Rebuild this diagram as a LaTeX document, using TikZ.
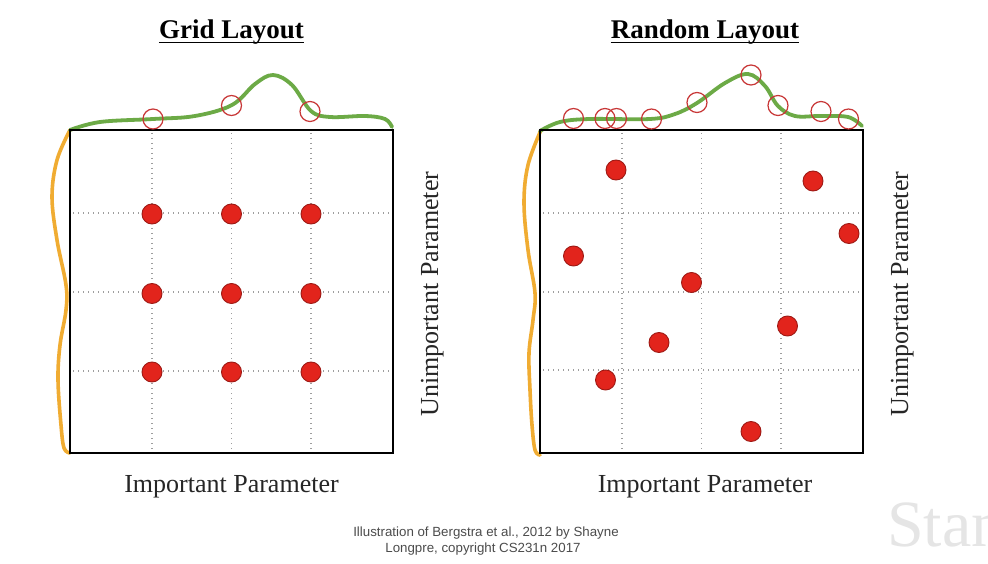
\documentclass[tikz,border=0pt]{standalone}
\usepackage{fontspec}
\setmainfont{Liberation Serif}
\newfontfamily\capfont{Liberation Sans}
\begin{document}
\begin{tikzpicture}[x=1pt,y=-1pt,
  box/.style={draw=black,line width=2.6pt},
  gridln/.style={draw=black!38,line width=1.4pt,dash pattern=on 1.4pt off 3.6pt},
  dot/.style={circle,fill=dotred,draw=dotred!70!black,line width=0.9pt,minimum size=20pt,inner sep=0pt},
  ring/.style={circle,draw=ringred,line width=1.2pt,minimum size=20pt,inner sep=0pt},
  gcurve/.style={draw=curvegreen,line width=3.8pt,line cap=round},
  ocurve/.style={draw=curveorange,line width=3.6pt,line cap=round},
  title/.style={font=\fontsize{27}{30}\selectfont\bfseries,inner sep=0pt,anchor=base},
  axlab/.style={font=\fontsize{26}{30}\selectfont,text=black!85,inner sep=0pt,anchor=base},
  caption/.style={font=\capfont\fontsize{13.3}{16}\selectfont,text=black!70,inner sep=0pt,anchor=base}
]
\definecolor{dotred}{RGB}{226,36,28}
\definecolor{ringred}{RGB}{200,55,55}
\definecolor{curvegreen}{RGB}{108,170,70}
\definecolor{curveorange}{RGB}{240,172,50}
\useasboundingbox (0,0) rectangle (988,564);
\fill[white] (0,0) rectangle (988,564);

% watermark (cut off at the right edge, as in the reference)
\begin{scope}
\clip (0,0) rectangle (988,564);
\node[font=\fontsize{66}{70}\selectfont,text=black!10,inner sep=0pt,anchor=base west] (wm) at (887,546) {Stan};
\end{scope}

% ---------- Left panel ----------
\foreach \x in {152,231.5,311} \draw[gridln] (\x,133) -- (\x,452);
\foreach \y in {213,292,371} \draw[gridln] (73,\y) -- (392,\y);
\draw[ocurve] plot[smooth,tension=0.6] coordinates {(70,130) (57,160) (52,197) (57,240) (66,285) (66,310) (60,345) (58,380) (61,425) (64,448) (70,453)};
\draw[gcurve] plot[smooth,tension=0.6] coordinates {(70,130) (100,122) (153,119) (195,116) (232,105) (255,84) (273,75) (292,85) (311,111) (330,117) (365,116) (385,119) (392,127)};
\draw[box] (70,130) rectangle (393,453);
\foreach \x/\n in {152/a,231.5/b,311/c}{
  \foreach \y/\m in {214/1,293.5/2,372/3}{
    \node[dot] (g\n\m) at (\x,\y) {};
  }
}
\node[ring] (gr1) at (153,119) {};
\node[ring] (gr2) at (231.5,105.5) {};
\node[ring] (gr3) at (310,111.5) {};

\node[title] (gt) at (231.5,39) {Grid Layout};
\draw[line width=1.8pt] ([yshift=-3.5pt]gt.base west) -- ([yshift=-3.5pt]gt.base east);
\node[axlab] (gx) at (231.5,492) {Important Parameter};
\node[axlab,rotate=90] (gy) at (438,294) {Unimportant Parameter};

% ---------- Right panel ----------
\foreach \x in {622,701.5,781} \draw[gridln] (\x,133) -- (\x,452);
\foreach \y in {213,292,370} \draw[gridln] (543,\y) -- (862,\y);
\draw[ocurve] plot[smooth,tension=0.6] coordinates {(541,130) (528,165) (524,203) (528,250) (535,293) (533,320) (529,353) (530,390) (532,425) (535,450) (540,455)};
\draw[gcurve] plot[smooth,tension=0.6] coordinates {(540,131) (560,122) (590,119) (650,119) (675,114) (697,103) (725,83) (748,74) (765,86) (778,106) (795,116) (820,116) (848,117) (862,126)};
\draw[box] (540,130) rectangle (863,453);
\node[dot] (r1) at (616,170) {};
\node[dot] (r2) at (813,181) {};
\node[dot] (r3) at (849,233.5) {};
\node[dot] (r4) at (573.5,256) {};
\node[dot] (r5) at (691.5,282.5) {};
\node[dot] (r6) at (787.5,326) {};
\node[dot] (r7) at (659,342.5) {};
\node[dot] (r8) at (605.5,380) {};
\node[dot] (r9) at (751,431.5) {};
\node[ring] (rr1) at (573.5,118.5) {};
\node[ring] (rr2) at (605,118.5) {};
\node[ring] (rr3) at (616.5,118.5) {};
\node[ring] (rr4) at (651.5,119) {};
\node[ring] (rr5) at (697,102.5) {};
\node[ring] (rr6) at (751,75) {};
\node[ring] (rr7) at (778,105.5) {};
\node[ring] (rr8) at (821,111.5) {};
\node[ring] (rr9) at (848.5,119) {};

\node[title] (rt) at (705,39) {Random Layout};
\draw[line width=1.8pt] ([yshift=-3.5pt]rt.base west) -- ([yshift=-3.5pt]rt.base east);
\node[axlab] (rx) at (705,492) {Important Parameter};
\node[axlab,rotate=90] (ry) at (908,294) {Unimportant Parameter};

% caption
\node[caption] (c1) at (486,536) {Illustration of Bergstra et al., 2012 by Shayne};
\node[caption] (c2) at (483,552) {Longpre, copyright CS231n 2017};
\end{tikzpicture}
\end{document}
